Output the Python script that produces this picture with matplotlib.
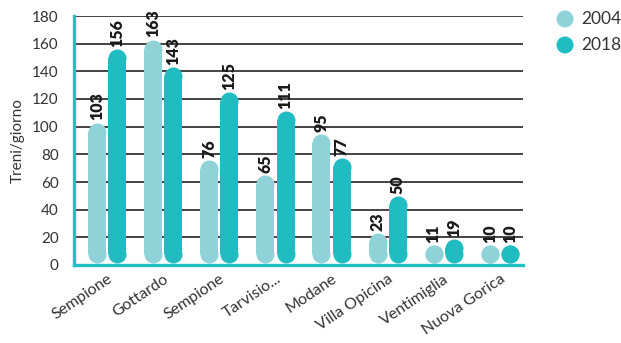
import matplotlib
matplotlib.use("Agg")
import matplotlib.pyplot as plt

plt.rcParams['font.family'] = ['Lato', 'DejaVu Sans']

# Data: trains per day at each Alpine crossing
categories = ["Sempione", "Gottardo", "Sempione", "Tarvisio...", "Modane",
              "Villa Opicina", "Ventimiglia", "Nuova Gorica"]
series_names = ["2004", "2018"]
values_2004 = [103, 163, 76, 65, 95, 23, 11, 10]
values_2018 = [156, 143, 125, 111, 77, 50, 19, 10]
y_ticks = [0, 20, 40, 60, 80, 100, 120, 140, 160, 180]

color_2004 = "#8fd3d8"
color_2018 = "#21bcc2"
teal_spine = "#22bfc4"
text_grey = "#333333"

W, H, DPI = 6.21, 3.43, 100
fig = plt.figure(figsize=(W, H), dpi=DPI)
ax = fig.add_axes([74 / 621, 1 - 265 / 343, (523 - 74) / 621, (265 - 16) / 343])

ax.set_ylim(0, 180)
ax.set_xlim(-0.588, 7.41)

# bar geometry: rectangle body plus round end caps
bar_px = 18.0
cap_pt = bar_px * 72 / DPI
px_per_unit_y = (265 - 16) / 180.0
px_per_unit_x = (523 - 74) / (7.41 + 0.588)
cap = (bar_px / 2) / px_per_unit_y        # cap radius in data units
bar_w = bar_px / px_per_unit_x            # bar width in data units
base = 1.3                                 # bars sit on top of the axis line
offset = 0.181

for vals, dx, col in [(values_2004, -offset, color_2004), (values_2018, offset, color_2018)]:
    for i, v in enumerate(vals):
        x = i + dx
        y0 = base + cap
        y1 = max(v - cap, y0)
        ax.bar(x, y1 - y0, bottom=y0, width=bar_w, color=col, lw=0, zorder=3)
        ax.plot([x, x], [y0, y1], ls='none', marker='o', ms=cap_pt,
                mfc=col, mec='none', zorder=3)
        top = y1 + cap
        ax.annotate(str(v), (x, top), xytext=(0, 1.5), textcoords='offset points',
                    rotation=90, ha='center', va='bottom', fontsize=11.5,
                    fontweight='heavy', color='#1a1a1a', zorder=4)

# gridlines
for t in y_ticks[1:]:
    ax.axhline(t, color='#111111', lw=1.1, zorder=1)

for s in ['top', 'right']:
    ax.spines[s].set_visible(False)
for s in ['left', 'bottom']:
    ax.spines[s].set_color(teal_spine)
    ax.spines[s].set_linewidth(2.4)
    ax.spines[s].set_zorder(5)

ax.set_yticks(y_ticks)
ax.set_yticklabels([str(t) for t in y_ticks])
ax.tick_params(axis='y', length=0, pad=11, labelsize=11, labelcolor=text_grey)
ax.set_xticks(range(len(categories)))
ax.set_xticklabels(categories, rotation=34, ha='right', va='top',
                   rotation_mode='anchor')
ax.tick_params(axis='x', length=0, pad=5, labelsize=11.5, labelcolor=text_grey)

ax.set_ylabel("Treni/giorno", fontsize=11, color=text_grey, labelpad=5)

# legend drawn in pixel coordinates of the figure
lax = fig.add_axes([0, 0, 1, 1], zorder=-1)
lax.set_xlim(0, 621)
lax.set_ylim(343, 0)
lax.axis('off')
for k, (name, col) in enumerate(zip(series_names, [color_2004, color_2018])):
    yy = 19 + 26 * k
    lax.scatter([565], [yy], s=150, marker='o', color=col, edgecolors='none')
    lax.text(581, yy, name, va='center', ha='left', fontsize=12.5, color=text_grey)

fig.savefig("out.png", dpi=DPI)
